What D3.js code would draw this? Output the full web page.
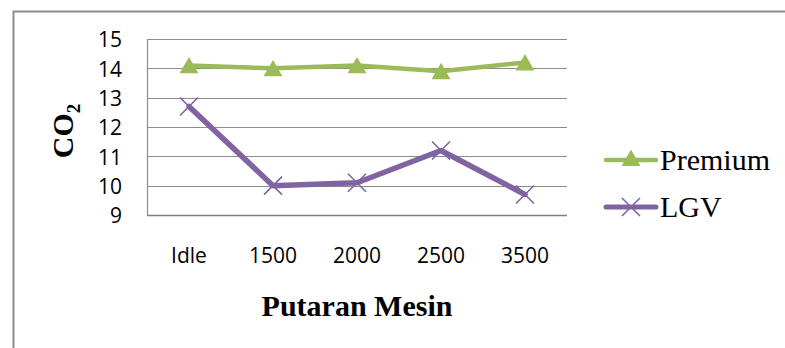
<!DOCTYPE html>
<html>
<head>
<meta charset="utf-8">
<script src="https://cdn.jsdelivr.net/npm/d3@7"></script>
<style>
  html, body { margin: 0; padding: 0; background: #fff; }
  svg { display: block; }
</style>
</head>
<body>
<svg id="chart" width="785" height="348"></svg>
<script>
// Engine speed categories and CO2 readings per fuel
const categories = ["Idle", "1500", "2000", "2500", "3500"];
const premium = [14.1, 14.0, 14.1, 13.9, 14.2];
const lgv = [12.7, 10.0, 10.1, 11.2, 9.7];
const yTicks = [9, 10, 11, 12, 13, 14, 15];
const seriesNames = ["Premium", "LGV"];

const svg = d3.select("#chart");
const W = 785, H = 348;
const plot = { left: 147, right: 567, top: 39, bottom: 215 };
const green = "#9BBB59", purple = "#8064A2";
const tickFont = "'Open Sans', 'Liberation Sans', sans-serif";
const serif = "'Liberation Serif', 'Times New Roman', serif";

// Outer chart frame (only top and left edges fall inside the view)
svg.append("path")
  .attr("d", `M13.5,${H} V11.5 H${W}`)
  .attr("fill", "none").attr("stroke", "#8c8c8c").attr("stroke-width", 2);

const x = d3.scaleBand().domain(categories).range([plot.left, plot.right]);
const y = d3.scaleLinear().domain([9, 15]).range([plot.bottom, plot.top]);

// Horizontal gridlines
svg.append("g").selectAll("line").data(yTicks).join("line")
  .attr("x1", plot.left).attr("x2", plot.right)
  .attr("y1", d => Math.round(y(d)) + 0.5).attr("y2", d => Math.round(y(d)) + 0.5)
  .attr("stroke", d => d === 9 ? "#7f7f7f" : "#8c8c8c")
  .attr("stroke-width", d => d === 9 ? 1.6 : 1.2);

// Left edge of the plot area
svg.append("line")
  .attr("x1", plot.left + 0.5).attr("x2", plot.left + 0.5)
  .attr("y1", plot.top).attr("y2", plot.bottom)
  .attr("stroke", "#8c8c8c").attr("stroke-width", 1.2);

// Y axis labels
const yAxis = d3.axisLeft(y).tickValues(yTicks).tickFormat(d3.format("d")).tickSize(0).tickPadding(0);
const gy = svg.append("g").attr("transform", `translate(122,1)`).call(yAxis);
gy.select(".domain").remove();
gy.selectAll("text").attr("font-family", tickFont).attr("font-size", 21).attr("fill", "#000");

// X axis labels
const xAxis = d3.axisBottom(x).tickSize(0).tickPadding(0);
const gx = svg.append("g").attr("transform", `translate(0,263)`).call(xAxis);
gx.select(".domain").remove();
gx.selectAll("text").attr("dy", 0).attr("font-family", tickFont).attr("font-size", 21).attr("fill", "#000");

// Axis titles
const yt = svg.append("text")
  .attr("transform", `translate(73,131) rotate(-90)`)
  .attr("text-anchor", "middle")
  .attr("font-family", serif).attr("font-weight", "bold").attr("font-size", 30).attr("fill", "#000");
yt.append("tspan").text("CO");
yt.append("tspan").text("2").attr("font-size", 19).attr("dy", 7);

svg.append("text")
  .attr("x", 357).attr("y", 316)
  .attr("text-anchor", "middle")
  .attr("font-family", serif).attr("font-weight", "bold").attr("font-size", 30).attr("fill", "#000")
  .text("Putaran Mesin");

const cx = d => x(d) + x.bandwidth() / 2;
const line = d3.line().x((d, i) => cx(categories[i])).y(d => y(d));

const triangle = d3.symbol().type(d3.symbolTriangle).size(155);
function drawTriangle(g, px, py) {
  g.append("path").attr("d", triangle()).attr("transform", `translate(${px},${py + 2.5})`).attr("fill", green);
}
function drawCross(g, px, py) {
  const s = 9;
  g.append("path")
    .attr("d", `M${px - s},${py - s} L${px + s},${py + s} M${px - s},${py + s} L${px + s},${py - s}`)
    .attr("stroke", purple).attr("stroke-width", 1.6).attr("fill", "none");
}

// Premium series
svg.append("path").datum(premium).attr("d", line)
  .attr("fill", "none").attr("stroke", green).attr("stroke-width", 4.5)
  .attr("stroke-linejoin", "round").attr("stroke-linecap", "round");
const gp = svg.append("g");
premium.forEach((v, i) => drawTriangle(gp, cx(categories[i]), y(v)));

// LGV series
svg.append("path").datum(lgv).attr("d", line)
  .attr("fill", "none").attr("stroke", purple).attr("stroke-width", 5.5)
  .attr("stroke-linejoin", "round").attr("stroke-linecap", "round");
const gl = svg.append("g");
lgv.forEach((v, i) => drawCross(gl, cx(categories[i]), y(v)));

// Legend
const legendY = [160, 207];
seriesNames.forEach((name, i) => {
  const ly = legendY[i];
  const color = i === 0 ? green : purple;
  svg.append("line").attr("x1", 606).attr("x2", 656).attr("y1", ly).attr("y2", ly)
    .attr("stroke", color).attr("stroke-width", i === 0 ? 4.5 : 5).attr("stroke-linecap", "round");
  if (i === 0) drawTriangle(svg, 631, ly - 2); else drawCross(svg, 631, ly);
  svg.append("text").attr("x", 660).attr("y", ly + 10)
    .attr("font-family", serif).attr("font-size", 30).attr("fill", "#000").text(name);
});
</script>
</body>
</html>
